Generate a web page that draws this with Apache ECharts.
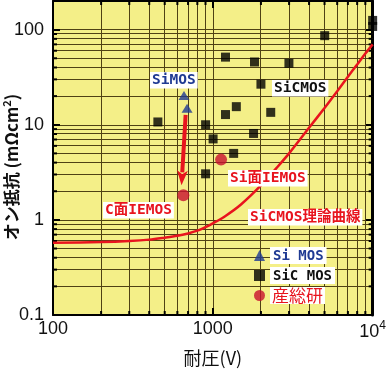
<!DOCTYPE html>
<html><head><meta charset="utf-8">
<script src="https://cdn.jsdelivr.net/npm/echarts@6/dist/echarts.min.js"></script>
<style>html,body{margin:0;padding:0;background:#fff}#c{width:389px;height:372px}</style>
</head><body><div id="c"></div>
<script>
// ---- data ----
const siMOS = [[660, 20.3], [690, 14.9]];
const sicMOS = [[453, 10.7], [901, 10.0], [1004, 7.1], [901, 3.05], [1350, 5.0], [1403, 15.5],
  [1200, 12.8], [1200, 51.4], [1823, 45.7], [2000, 26.7], [1798, 8.1], [2303, 13.5],
  [2993, 44.3], [5012, 86.4], [10000, 125], [10000, 108]];
const aist = [[1126, 4.3], [654, 1.81]];
const limitV = [100, 200, 300, 400, 500, 600, 700, 800, 900, 1000, 1200, 1500, 2000, 2500, 3000, 4000, 5000, 6000, 7000, 8000, 9000, 10000];
const limitR = [0.575, 0.585, 0.6, 0.62, 0.65, 0.68, 0.72, 0.77, 0.84, 0.92, 1.1, 1.45, 2.3, 3.5, 5.0, 9.3, 15, 22.5, 32, 43, 56, 70];
const arrowFrom = [676, 12.7];
const arrowTo = [637, 2.31];
const xTickValues = [100, 1000, 10000];
const xTickLabels = ['100', '1000', '{b|10}{s|4}'];
const yTickValues = [0.1, 1, 10, 100];
const yTickLabels = ['0.1', '1', '10', '100'];
const xMinor = [200, 300, 400, 500, 600, 700, 800, 900, 2000, 3000, 4000, 5000, 6000, 7000, 8000, 9000];
const yMinor = [0.2, 0.3, 0.4, 0.5, 0.6, 0.7, 0.8, 0.9, 2, 3, 4, 5, 6, 7, 8, 9, 20, 30, 40, 50, 60, 70, 80, 90];
const X_MIN = 100, X_MAX = 10000, Y_MIN = 0.1, Y_MAX = 200;

// ---- styles ----
const GRIDC = '#4f4114';
const BG = '#f4ef88';
const RED = '#e8141e';
const DARKRED = '#c8102e';
const NAVY = '#1f3a93';
const MONO = '"DejaVu Sans Mono", "Noto Sans CJK JP", monospace';
const LAB = '"Liberation Sans", Arial, sans-serif';

const limitData = limitV.map((v, i) => [v, limitR[i]]);

function fmt(values, labels) {
  return function (v) {
    for (let i = 0; i < values.length; i++) {
      if (Math.abs(v - values[i]) / values[i] < 1e-6) return labels[i];
    }
    return '';
  };
}
const px = v => Math.round(v - 0.5) + 0.5;

function vRender(params, api) {
  const v = api.value(0);
  const b = api.coord([v, Y_MIN]);
  const t = api.coord([v, Y_MAX]);
  const x = px(b[0]);
  return {
    type: 'group', children: [
      { type: 'line', shape: { x1: x, y1: b[1], x2: x, y2: t[1] }, style: { stroke: GRIDC, lineWidth: 1 } },
      { type: 'line', shape: { x1: b[0], y1: b[1], x2: b[0], y2: b[1] - 4 }, style: { stroke: '#000', lineWidth: 2 } },
      { type: 'line', shape: { x1: t[0], y1: t[1], x2: t[0], y2: t[1] + 4 }, style: { stroke: '#000', lineWidth: 2 } }
    ]
  };
}
function hRender(params, api) {
  const v = api.value(1);
  const l = api.coord([X_MIN, v]);
  const r = api.coord([X_MAX, v]);
  const y = px(l[1]);
  return {
    type: 'group', children: [
      { type: 'line', shape: { x1: l[0], y1: y, x2: r[0], y2: y }, style: { stroke: GRIDC, lineWidth: 1 } },
      { type: 'line', shape: { x1: l[0], y1: l[1], x2: l[0] + 4, y2: l[1] }, style: { stroke: '#000', lineWidth: 2 } },
      { type: 'line', shape: { x1: r[0], y1: r[1], x2: r[0] - 4, y2: r[1] }, style: { stroke: '#000', lineWidth: 2 } }
    ]
  };
}
function arrowRender(params, api) {
  const p1 = api.coord([api.value(0), api.value(1)]);
  const p2 = api.coord([api.value(2), api.value(3)]);
  const dx = p2[0] - p1[0], dy = p2[1] - p1[1];
  const len = Math.sqrt(dx * dx + dy * dy);
  const ux = dx / len, uy = dy / len;
  const headL = 15, headW = 5.5;
  const bx = p2[0] - ux * headL, by = p2[1] - uy * headL;
  return {
    type: 'group', children: [
      { type: 'line', shape: { x1: p1[0], y1: p1[1], x2: bx + ux * 2, y2: by + uy * 2 }, style: { stroke: RED, lineWidth: 4 } },
      { type: 'polygon', shape: { points: [[p2[0], p2[1]], [bx - uy * headW, by + ux * headW], [bx + ux * 4, by + uy * 4], [bx + uy * headW, by - ux * headW]] }, style: { fill: RED } }
    ]
  };
}

const axisCommon = {
  type: 'log', logBase: 10,
  axisLine: { show: true, onZero: false, lineStyle: { color: '#000', width: 2 } },
  axisTick: { show: true, inside: true, length: 7, lineStyle: { color: '#000', width: 2 } },
  minorTick: { show: false },
  minorSplitLine: { show: false }
};

const legendKeys = { 'Si MOS': 'a', 'SiC MOS': 'b', '産総研': 'c' };

const option = {
  animation: false,
  backgroundColor: '#fff',
  grid: { left: 53, right: 14, top: 1, bottom: 50, show: true, backgroundColor: BG, borderWidth: 0 },
  xAxis: [
    Object.assign({}, axisCommon, {
      min: X_MIN, max: X_MAX, position: 'bottom',
      splitLine: { show: true, lineStyle: { color: GRIDC, width: 1 } },
      axisLabel: {
        margin: 5, color: '#111', fontFamily: LAB, fontSize: 18,
        formatter: fmt(xTickValues, xTickLabels),
        rich: {
          b: { fontFamily: LAB, fontSize: 18, color: '#111' },
          s: { fontFamily: LAB, fontSize: 12, color: '#111', padding: [0, 0, 12, 0] }
        }
      },
      name: '耐圧(V)', nameLocation: 'middle', nameGap: 34,
      nameTextStyle: { fontFamily: '"Noto Sans CJK JP"', fontSize: 18, color: '#111' }
    }),
    Object.assign({}, axisCommon, {
      min: X_MIN, max: X_MAX, position: 'top',
      splitLine: { show: false }, axisLabel: { show: false }
    })
  ],
  yAxis: [
    Object.assign({}, axisCommon, {
      min: Y_MIN, max: Y_MAX, position: 'left',
      splitLine: { show: true, lineStyle: { color: GRIDC, width: 1 } },
      axisLabel: {
        margin: 9, color: '#111', fontFamily: LAB, fontSize: 18,
        showMaxLabel: false,
        formatter: fmt(yTickValues, yTickLabels)
      }
    }),
    Object.assign({}, axisCommon, {
      min: Y_MIN, max: Y_MAX, position: 'right',
      axisLine: { show: true, onZero: false, lineStyle: { color: '#000', width: 3 } },
      splitLine: { show: false }, axisLabel: { show: false }
    })
  ],
  legend: {
    orient: 'vertical', left: 249, top: 242, itemGap: 3,
    itemWidth: 11, itemHeight: 11,
    selectedMode: false,
    formatter: name => '{' + legendKeys[name] + '|' + name + '}',
    textStyle: {
      rich: {
        a: { color: NAVY, fontFamily: MONO, fontSize: 14, fontWeight: 'bold', backgroundColor: '#fff', padding: [2, 3, 1, 3] },
        b: { color: '#111', fontFamily: MONO, fontSize: 14, fontWeight: 'bold', backgroundColor: '#fff', padding: [2, 3, 1, 3] },
        c: { color: RED, fontFamily: '"Noto Sans CJK JP"', fontSize: 17, backgroundColor: '#fff', padding: [0, 2, 0, 2] }
      }
    },
    data: [
      { name: 'Si MOS', icon: 'triangle' },
      { name: 'SiC MOS', icon: 'rect' },
      { name: '産総研', icon: 'circle' }
    ]
  },
  series: [
    { type: 'custom', name: 'vgrid', renderItem: vRender, data: xMinor.map(v => [v, 1]), z: 1, silent: true, clip: false },
    { type: 'custom', name: 'hgrid', renderItem: hRender, data: yMinor.map(v => [X_MIN, v]), z: 1, silent: true, clip: false },
    {
      type: 'line', name: 'SiC limit', data: limitData, smooth: 0.3, showSymbol: false, symbol: 'none',
      lineStyle: { color: RED, width: 2.5 }, z: 2
    },
    {
      type: 'custom', name: 'arrow', renderItem: arrowRender, z: 2, silent: true, clip: false,
      encode: { x: [0, 2], y: [1, 3] },
      data: [[arrowFrom[0], arrowFrom[1], arrowTo[0], arrowTo[1]]]
    },
    { type: 'scatter', name: 'SiC MOS', data: sicMOS, symbol: 'rect', symbolSize: 9, itemStyle: { color: '#000' }, z: 3, clip: false },
    { type: 'scatter', name: 'Si MOS', data: siMOS, symbol: 'triangle', symbolSize: [11, 9], itemStyle: { color: NAVY }, z: 3, clip: false },
    { type: 'scatter', name: '産総研', data: aist, symbol: 'circle', symbolSize: 12, itemStyle: { color: DARKRED }, z: 3, clip: false }
  ],
  graphic: [
    { type: 'text', x: 150, y: 72, z: 100, style: { text: 'SiMOS', fill: NAVY, font: 'bold 14.5px ' + MONO, backgroundColor: '#fff', padding: [1, 2, 1, 2] } },
    { type: 'text', x: 272, y: 80, z: 100, style: { text: 'SiCMOS', fill: '#111', font: 'bold 14.5px ' + MONO, backgroundColor: '#fff', padding: [1, 2, 1, 2] } },
    { type: 'text', x: 228, y: 170, z: 100, style: { text: 'Si面IEMOS', fill: RED, font: 'bold 14.5px ' + MONO, backgroundColor: '#fff', padding: [1, 2, 1, 2] } },
    { type: 'text', x: 103, y: 202, z: 100, style: { text: 'C面IEMOS', fill: RED, font: 'bold 14.5px ' + MONO, backgroundColor: '#fff', padding: [1, 2, 1, 2] } },
    { type: 'text', x: 248, y: 209, z: 100, style: { text: 'SiCMOS理論曲線', fill: RED, font: 'bold 14.5px ' + MONO, backgroundColor: '#fff', padding: [1, 2, 1, 2] } },
    {
      type: 'text', x: 12, y: 167, rotation: Math.PI / 2, z: 100,
      style: {
        text: '{n|オン抵抗 (mΩcm}{s|2}{n|)}', align: 'center', verticalAlign: 'middle',
        rich: {
          n: { fontFamily: '"Noto Sans CJK JP"', fontSize: 17, fontWeight: 'bold', fill: '#111' },
          s: { fontFamily: '"Noto Sans CJK JP"', fontSize: 11, fontWeight: 'bold', fill: '#111', padding: [0, 0, 10, 0] }
        }
      }
    }
  ]
};

const chart = echarts.init(document.getElementById('c'), null, { renderer: 'canvas' });
chart.setOption(option);
</script>
</body></html>
